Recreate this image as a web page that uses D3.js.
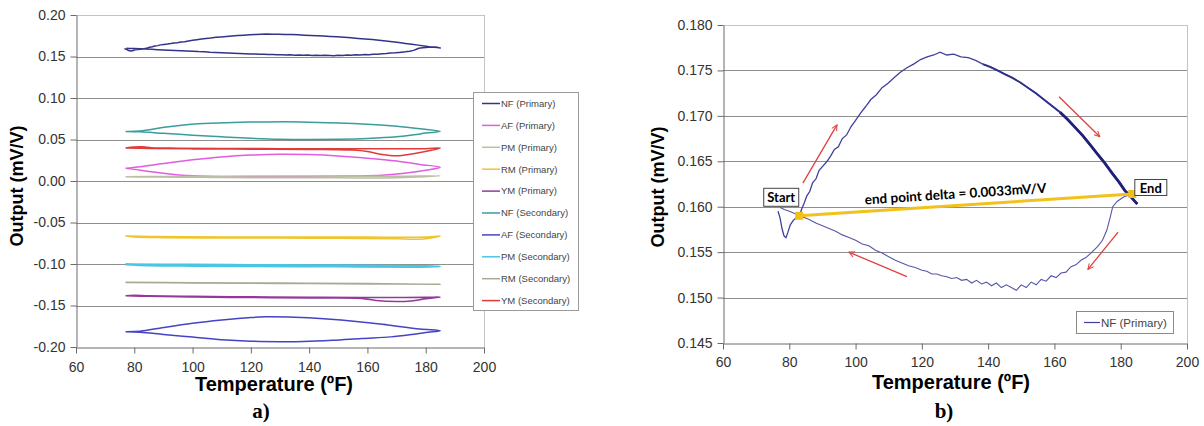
<!DOCTYPE html>
<html>
<head>
<meta charset="utf-8">
<script src="https://cdnjs.cloudflare.com/ajax/libs/d3/7.8.5/d3.min.js"></script>
<style>
  body { margin: 0; background: #fff; }
  text { font-family: "Liberation Sans", Arial, sans-serif; }
</style>
</head>
<body>
<svg id="chart" width="1204" height="426"></svg>
<script>
// ---- tick values ----
const tempTicks = [60, 80, 100, 120, 140, 160, 180, 200];
const leftOutputTicks = [-0.20, -0.15, -0.10, -0.05, 0.00, 0.05, 0.10, 0.15, 0.20];
const rightOutputTicks = [0.145, 0.150, 0.155, 0.160, 0.165, 0.170, 0.175, 0.180];

// ---- series (temperature ºF, output mV/V) ----
const seriesNames = ["NF (Primary)", "AF (Primary)", "PM (Primary)", "RM (Primary)", "YM (Primary)",
                     "NF (Secondary)", "AF (Secondary)", "PM (Secondary)", "RM (Secondary)", "YM (Secondary)"];

// NF (Primary): start hook + heating branch
const nfPrimaryHeat = [
  [76.6,0.1595],[77.2,0.1588],[77.8,0.1576],[78.4,0.1568],[79.0,0.1566],[79.6,0.1572],[80.3,0.1580],
  [81.2,0.1585],[82.2,0.1588],[83.0,0.1590],
  [83.8,0.1598],[84.5,0.1604],[85.3,0.1612],[86.2,0.1617],[87.0,0.1626],[88.1,0.1631],[89.0,0.1640],
  [90.2,0.1645],[91.4,0.1650],[92.5,0.1656],[93.6,0.1663],[94.8,0.1666],[96.0,0.1675],[97.3,0.1679],
  [98.6,0.1688],[100.0,0.1695],[101.5,0.1703],[103.0,0.1710],[104.6,0.1718],[106.2,0.1723],[108.0,0.1731],
  [109.8,0.1736],[111.6,0.1742],[113.5,0.1748],[115.5,0.1753],[117.5,0.1757],[119.6,0.1762],[121.6,0.1765],
  [123.6,0.1767],[125.5,0.1770],[127.5,0.1767],[129.6,0.1768],[131.8,0.1765],[134.0,0.1764],[136.2,0.1761],
  [138.4,0.1757],[140.6,0.1754],[142.8,0.1750],[145.0,0.1746],[147.2,0.1742],[149.6,0.1737],[152.0,0.1731],
  [154.4,0.1725],[156.8,0.1718],[159.2,0.1711],[161.7,0.1704],[164.0,0.1696],[166.3,0.1687],[168.6,0.1678],
  [170.8,0.1668],[173.0,0.1658],[175.2,0.1648],[177.4,0.1637],[179.5,0.1627],[181.2,0.1618],[182.8,0.1612],
  [184.0,0.1607],[185.0,0.1603]
];
// NF (Primary): cooling branch
const nfPrimaryCool = [
  [183.5,0.1614],[181.0,0.1611],[179.0,0.1606],[177.6,0.1600],[176.8,0.1588],[175.8,0.1574],[174.5,0.1563],
  [173.0,0.1556],[171.0,0.1549],[169.5,0.1544],[168.0,0.1541],[166.5,0.1536],[165.0,0.1534],[163.5,0.1528],
  [162.0,0.1527],[160.5,0.1522],[159.0,0.1524],[157.5,0.1518],[156.0,0.1520],[154.5,0.1514],[153.0,0.1517],
  [151.5,0.1511],[150.0,0.1514],[148.5,0.1508],[147.0,0.1511],[145.5,0.1514],[144.0,0.1511],[142.5,0.1516],
  [141.0,0.1513],[139.5,0.1517],[138.0,0.1515],[136.5,0.1519],[135.0,0.1516],[133.5,0.1520],[132.0,0.1519],
  [130.5,0.1522],[129.0,0.1521],[127.5,0.1523],[126.0,0.1524],[124.5,0.1526],[123.0,0.1526],[121.5,0.1529],
  [120.0,0.1530],[118.0,0.1533],[116.0,0.1535],[114.0,0.1538],[112.0,0.1541],[110.0,0.1545],[108.0,0.1549],
  [106.0,0.1552],[104.0,0.1557],[102.0,0.1559],[100.0,0.1563],[98.0,0.1566],[96.0,0.1569],[94.0,0.1573],
  [92.0,0.1576],[90.0,0.1579],[88.0,0.1582],[86.0,0.1586],[84.0,0.1589],[82.0,0.1592],[80.0,0.1595],
  [78.5,0.1597],[77.3,0.1599]
];
const afPrimary = [
  [77,0.0153],[82,0.0172],[90,0.0210],[100,0.0255],[110,0.0290],[120,0.0312],[130,0.0322],[140,0.0318],
  [150,0.0302],[160,0.0275],[170,0.0240],[178,0.0200],[185,0.0165],
  [180,0.0130],[172,0.0090],[165,0.0068],[155,0.0060],[140,0.0055],[125,0.0050],[110,0.0052],[100,0.0062],
  [92,0.0085],[85,0.0115],[80,0.0140],[77,0.0153]
];
const pmPrimary = [
  [77,0.0050],[90,0.0055],[110,0.0058],[130,0.0060],[150,0.0058],[170,0.0057],[185,0.0062],
  [170,0.0040],[150,0.0038],[120,0.0040],[100,0.0045],[85,0.0048],[77,0.0050]
];
const rmPrimary = [
  [77,-0.0663],[85,-0.0668],[100,-0.0672],[120,-0.0675],[140,-0.0676],[160,-0.0676],[175,-0.0678],
  [182,-0.0672],[185,-0.0663],
  [180,-0.0695],[176,-0.0703],[170,-0.0696],[150,-0.0690],[130,-0.0688],[110,-0.0686],[90,-0.0683],
  [80,-0.0675],[77,-0.0663]
];
const ymPrimary = [
  [77,-0.1382],[80,-0.1378],[85,-0.1384],[100,-0.1390],[120,-0.1395],[140,-0.1400],[158,-0.1405],
  [170,-0.1404],[180,-0.1402],[185,-0.1398],
  [180,-0.1420],[175,-0.1445],[170,-0.1452],[163,-0.1440],[158,-0.1415],[140,-0.1410],[120,-0.1404],
  [100,-0.1398],[85,-0.1390],[77,-0.1382]
];
const nfSecondary = [
  [77,0.0597],[82,0.0602],[91,0.0650],[102,0.0690],[114,0.0705],[125,0.0712],[137,0.0712],[150,0.0700],
  [160,0.0684],[170,0.0660],[178,0.0630],[185,0.0598],
  [180,0.0578],[176,0.0556],[170,0.0532],[160,0.0512],[150,0.0503],[140,0.0500],[130,0.0503],[120,0.0515],
  [110,0.0532],[100,0.0552],[90,0.0574],[82,0.0593],[77,0.0597]
];
const afSecondary = [
  [77,-0.1816],[82,-0.1810],[90,-0.1765],[100,-0.1714],[110,-0.1675],[120,-0.1645],[125,-0.1637],
  [135,-0.1642],[145,-0.1660],[157,-0.1695],[167,-0.1735],[178,-0.1783],[185,-0.1804],
  [180,-0.1825],[175,-0.1850],[168,-0.1878],[158,-0.1898],[148,-0.1920],[138,-0.1934],[130,-0.1936],
  [120,-0.1930],[110,-0.1912],[100,-0.1880],[90,-0.1848],[82,-0.1822],[77,-0.1816]
];
const pmSecondary = [
  [77,-0.1004],[100,-0.1008],[120,-0.1012],[140,-0.1015],[160,-0.1020],[180,-0.1024],[185,-0.1030],
  [175,-0.1034],[150,-0.1030],[120,-0.1026],[100,-0.1022],[85,-0.1016],[77,-0.1004]
];
const rmSecondary = [
  [77,-0.1220],[100,-0.1225],[130,-0.1230],[160,-0.1236],[185,-0.1245],
  [160,-0.1240],[130,-0.1234],[100,-0.1228],[77,-0.1222]
];
const ymSecondary = [
  [77,0.0398],[80,0.0410],[83,0.0412],[86,0.0402],[95,0.0396],[110,0.0392],[130,0.0390],[150,0.0388],
  [170,0.0388],[180,0.0390],[185,0.0398],
  [182,0.0370],[179,0.0350],[175,0.0325],[170,0.0305],[165,0.0320],[160,0.0355],[155,0.0372],
  [140,0.0380],[120,0.0383],[100,0.0387],[85,0.0392],[77,0.0398]
];

const seriesValues = [nfPrimaryHeat.concat(nfPrimaryCool), afPrimary, pmPrimary, rmPrimary, ymPrimary,
                      nfSecondary, afSecondary, pmSecondary, rmSecondary, ymSecondary];
const seriesColors = ["#333388", "#e05ce0", "#bcbea6", "#f0c42c", "#95389b",
                      "#3a9c9c", "#4444c4", "#48c6e4", "#aaa994", "#e03a3a"];

// ---- annotations of panel b ----
const deltaStart = [83.0, 0.1590];
const deltaEnd = [183.5, 0.1614];
const deltaLabel = "end point delta = 0.0033mV/V";
const redArrows = [
  [[84.1, 0.1626], [94.4, 0.1690]],
  [[161.4, 0.1721], [173.7, 0.1677]],
  [[179.2, 0.1572], [170.1, 0.1531]],
  [[115.5, 0.1523], [98.0, 0.1550]]
];

const svg = d3.select("#chart");

svg.append("defs").append("marker")
  .attr("id", "arrowHead")
  .attr("viewBox", "0 0 10 10")
  .attr("refX", 9).attr("refY", 5)
  .attr("markerWidth", 7).attr("markerHeight", 7)
  .attr("markerUnits", "userSpaceOnUse")
  .attr("orient", "auto")
  .append("path")
  .attr("d", "M1,1 L9,5 L1,9")
  .attr("fill", "none")
  .attr("stroke", "#e04040")
  .attr("stroke-width", 1.4);

/**
 * Gridlines, border and both axes of one panel
 */
function drawFrame(x, y, yTicks, yFormat, xPad) {
  let g = svg.append("g");
  let [x0, x1] = x.range();
  let [yBottom, yTop] = y.range();

  //horizontal gridlines (skip the bottom one, the axis draws it)
  g.selectAll(".grid")
    .data(yTicks.filter(t => t !== y.domain()[0]))
    .enter().append("line")
    .attr("x1", x0).attr("x2", x1)
    .attr("y1", d => Math.round(y(d)) + 0.5).attr("y2", d => Math.round(y(d)) + 0.5)
    .attr("stroke", d => d === y.domain()[1] ? "#c4c4c4" : "#8e8e8e");

  //right border
  g.append("line")
    .attr("x1", x1 + 0.5).attr("x2", x1 + 0.5)
    .attr("y1", yTop).attr("y2", yBottom)
    .attr("stroke", "#c4c4c4");

  let xAxis = g.append("g")
    .attr("transform", "translate(0," + (Math.round(yBottom) + 0.5) + ")")
    .call(d3.axisBottom(x).tickValues(tempTicks).tickSize(6).tickSizeOuter(0).tickPadding(xPad));

  let yAxis = g.append("g")
    .attr("transform", "translate(" + (Math.round(x0) + 0.5) + ",0)")
    .call(d3.axisLeft(y).tickValues(yTicks).tickFormat(yFormat).tickSize(6).tickSizeOuter(0).tickPadding(5));

  [xAxis, yAxis].forEach(a => {
    a.select(".domain").attr("stroke", "#6a6a6a");
    a.selectAll(".tick line").attr("stroke", "#6a6a6a");
    a.selectAll(".tick text")
      .attr("fill", "#333")
      .style("font-family", "'Liberation Sans', Arial, sans-serif")
      .style("font-size", "14px");
  });
}

/**
 * Axis titles and the panel letter
 */
function drawTitles(xCenter, yTitleX, yTitleY, xTitleY, letter, letterX, letterY) {
  svg.append("text")
    .attr("transform", "translate(" + yTitleX + "," + yTitleY + ") rotate(-90)")
    .attr("text-anchor", "middle")
    .style("font-size", "18px").style("font-weight", "bold")
    .text("Output (mV/V)");

  svg.append("text")
    .attr("x", xCenter).attr("y", xTitleY)
    .attr("text-anchor", "middle")
    .style("font-size", "20px").style("font-weight", "bold")
    .text("Temperature (ºF)");

  svg.append("text")
    .attr("x", letterX).attr("y", letterY)
    .attr("text-anchor", "middle")
    .style("font-family", "'Liberation Serif', 'Times New Roman', serif")
    .style("font-size", "21px").style("font-weight", "bold")
    .text(letter);
}

// ================= panel a =================
let xa = d3.scaleLinear().domain([60, 200]).range([76, 484]);
let ya = d3.scaleLinear().domain([-0.20, 0.20]).range([347, 15]);

drawFrame(xa, ya, leftOutputTicks, d => d.toFixed(2), 9);

let loopLine = d3.line()
  .x(d => xa(d[0]))
  .y(d => ya(d[1]))
  .curve(d3.curveCatmullRom.alpha(0.5));

let denseLine = d3.line()
  .x(d => xa(d[0]))
  .y(d => ya(d[1]));

seriesValues.forEach((values, i) => {
  svg.append("path")
    .attr("d", i === 0 ? denseLine(values) : loopLine(values))
    .attr("fill", "none")
    .attr("stroke", seriesColors[i])
    .attr("stroke-width", i === 7 ? 2.2 : 1.5)
    .attr("stroke-linejoin", "round");
});

//legend of panel a
let legA = svg.append("g").attr("transform", "translate(473,92)");
legA.append("rect")
  .attr("x", 0.5).attr("y", 0.5)
  .attr("width", 105).attr("height", 218)
  .attr("fill", "#fff").attr("stroke", "#9a9a9a");

let legItems = legA.selectAll(".item")
  .data(seriesNames)
  .enter().append("g")
  .attr("transform", (d, i) => "translate(0," + (11.5 + i * 21.9) + ")");

legItems.append("line")
  .attr("x1", 9).attr("x2", 27)
  .attr("stroke", (d, i) => seriesColors[i])
  .attr("stroke-width", 1.5);

legItems.append("text")
  .attr("x", 28).attr("dy", "0.35em")
  .attr("fill", "#444")
  .style("font-size", "9.5px")
  .text(d => d);

drawTitles(274, 23, 186, 391, "a)", 261, 418);

// ================= panel b =================
let xb = d3.scaleLinear().domain([60, 200]).range([723, 1187]);
let yb = d3.scaleLinear().domain([0.145, 0.180]).range([343, 25]);

drawFrame(xb, yb, rightOutputTicks, d => d.toFixed(3), 8);

let nfLine = d3.line()
  .x(d => xb(d[0]))
  .y(d => yb(d[1]));

svg.append("path")
  .attr("d", nfLine(nfPrimaryCool))
  .attr("fill", "none").attr("stroke", "#5656a8").attr("stroke-width", 1.1);

svg.append("path")
  .attr("d", nfLine(nfPrimaryHeat))
  .attr("fill", "none").attr("stroke", "#40409c").attr("stroke-width", 1.3);

//the dense (heavy) part of the heating branch, getting heavier toward the end
svg.append("path")
  .attr("d", nfLine(nfPrimaryHeat.filter(d => d[0] >= 138)))
  .attr("fill", "none").attr("stroke", "#30308a").attr("stroke-width", 1.9);

svg.append("path")
  .attr("d", nfLine(nfPrimaryHeat.filter(d => d[0] >= 160)))
  .attr("fill", "none").attr("stroke", "#20207a").attr("stroke-width", 2.8);

//end point delta line
let sp = [xb(deltaStart[0]), yb(deltaStart[1])];
let ep = [xb(deltaEnd[0]), yb(deltaEnd[1])];

svg.append("line")
  .attr("x1", sp[0]).attr("y1", sp[1])
  .attr("x2", ep[0]).attr("y2", ep[1])
  .attr("stroke", "#f2c11c").attr("stroke-width", 3);

svg.selectAll(".endmark")
  .data([sp, ep])
  .enter().append("rect")
  .attr("x", d => d[0] - 4).attr("y", d => d[1] - 4)
  .attr("width", 8).attr("height", 8)
  .attr("fill", "#f0bf1a");

let angle = Math.atan2(ep[1] - sp[1], ep[0] - sp[0]) * 180 / Math.PI;
let mid = [sp[0] + (ep[0] - sp[0]) * 0.47, sp[1] + (ep[1] - sp[1]) * 0.47];

svg.append("text")
  .attr("transform", "translate(" + mid[0] + "," + (mid[1] - 7) + ") rotate(" + angle + ")")
  .attr("text-anchor", "middle")
  .style("font-family", "Lato, 'Open Sans', sans-serif")
  .style("font-size", "13.5px").style("font-weight", "bold")
  .text(deltaLabel);

//start / end boxes
function labelBox(text, bx, by, w, h) {
  svg.append("rect")
    .attr("x", bx + 0.5).attr("y", by + 0.5)
    .attr("width", w).attr("height", h)
    .attr("fill", "#fff").attr("stroke", "#444");
  svg.append("text")
    .attr("x", bx + w / 2 + 0.5).attr("y", by + h / 2 + 1)
    .attr("dy", "0.35em")
    .attr("text-anchor", "middle")
    .style("font-family", "Lato, 'Open Sans', sans-serif")
    .style("font-size", "13px").style("font-weight", "bold")
    .text(text);
}
labelBox("Start", sp[0] - 36, sp[1] - 28, 35, 18);
labelBox("End", ep[0] + 2, ep[1] - 15, 32, 16);

//direction arrows
svg.selectAll(".arrow")
  .data(redArrows)
  .enter().append("line")
  .attr("x1", d => xb(d[0][0])).attr("y1", d => yb(d[0][1]))
  .attr("x2", d => xb(d[1][0])).attr("y2", d => yb(d[1][1]))
  .attr("stroke", "#e04040").attr("stroke-width", 1.3)
  .attr("marker-end", "url(#arrowHead)");

//legend of panel b
let legB = svg.append("g").attr("transform", "translate(1076,311)");
legB.append("rect")
  .attr("x", 0.5).attr("y", 0.5)
  .attr("width", 97).attr("height", 22)
  .attr("fill", "#fff").attr("stroke", "#8a8a8a");
legB.append("line")
  .attr("x1", 8).attr("x2", 24).attr("y1", 11.5).attr("y2", 11.5)
  .attr("stroke", "#40409c").attr("stroke-width", 1.2);
legB.append("text")
  .attr("x", 25).attr("y", 11.5).attr("dy", "0.35em")
  .attr("fill", "#444")
  .style("font-size", "11.5px")
  .text(seriesNames[0]);

drawTitles(951, 664, 187, 389, "b)", 944, 418);
</script>
</body>
</html>
